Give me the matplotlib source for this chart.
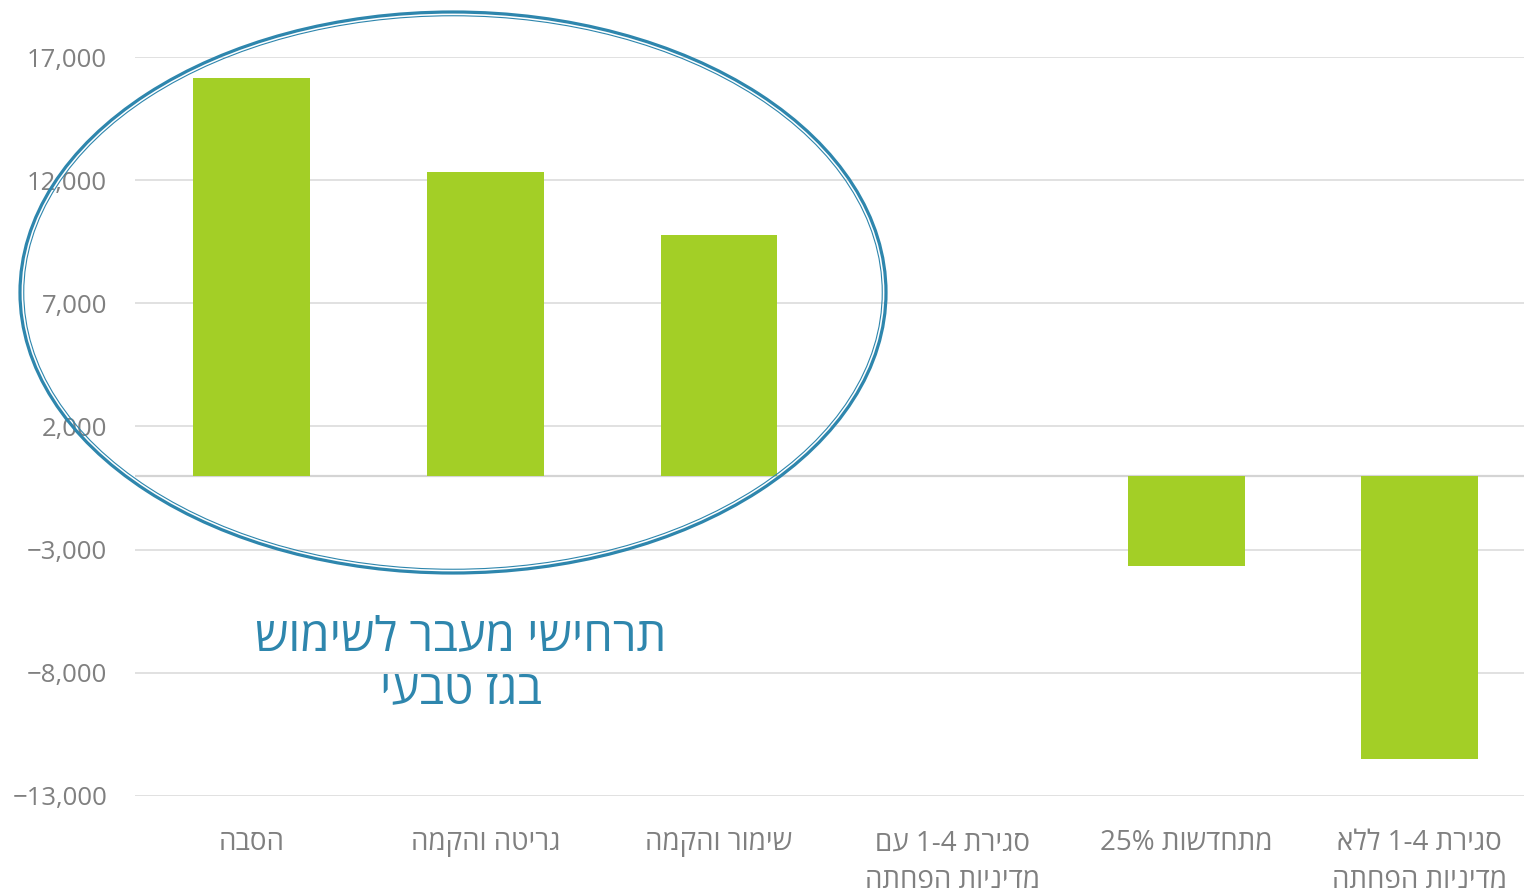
import matplotlib
matplotlib.use("Agg")
import matplotlib.pyplot as plt
from matplotlib.patches import Ellipse
from matplotlib.ticker import FuncFormatter

plt.rcParams["font.family"] = ["Open Sans", "DejaVu Sans"]

categories = ["הסבה", "גריטה והקמה", "שימור והקמה",
              "סגירת 1-4 עם\nמדיניות הפחתה", "מתחדשות 25%",
              "סגירת 1-4 ללא\nמדיניות הפחתה"]
values = [16150, 12320, 9770, 0, -3650, -11500]
yticks = [-13000, -8000, -3000, 2000, 7000, 12000, 17000]
note = "תרחישי מעבר לשימוש\nבגז טבעי"

green = "#a3cf26"
blue = "#2e86ad"
gray = "#808080"


def heb(s):
    # matplotlib has no bidi support: flip hebrew words into visual order
    out = []
    for line in s.split("\n"):
        words = line.split(" ")[::-1]
        words = [w[::-1] if any("\u0590" <= c <= "\u05ff" for c in w) else w for w in words]
        out.append(" ".join(words))
    return "\n".join(out)


fig = plt.figure(figsize=(15.24, 8.96), dpi=100)
ax = fig.add_axes([135 / 1524, 1 - 796 / 896, 1401.6 / 1524, (796 - 57) / 896])

x = list(range(len(categories)))
ax.bar(x, values, width=0.5, color=green, zorder=3)
ax.axhline(0, color="#d4d4d4", lw=1.6, zorder=2)

ax.set_xlim(-0.5, len(categories) - 0.5)
ax.set_ylim(-13000, 17000)
ax.set_yticks(yticks)
ax.yaxis.set_major_formatter(FuncFormatter(lambda v, p: f"{v:,.0f}".replace("-", "\u2212")))
ax.set_xticks(x)
ax.set_xticklabels([heb(c) for c in categories], linespacing=1.45)
ax.grid(axis="y", color="#dedede", lw=1.3, zorder=0)
for s in ax.spines.values():
    s.set_visible(False)
ax.tick_params(axis="y", length=0, pad=20, labelsize=18.5, labelcolor=gray)
ax.tick_params(axis="x", length=0, pad=24, labelsize=20, labelcolor=gray)
for t in ax.get_xticklabels():
    t.set_verticalalignment("top")

# double-line ellipse around the gas scenarios
tr = fig.dpi_scale_trans
cx, cy, w, h = 4.53, 8.96 - 2.925, 8.66, 5.61
fig.add_artist(Ellipse((cx, cy), w, h, transform=tr, fill=False, ec=blue, lw=2.3, zorder=5))
fig.add_artist(Ellipse((cx, cy), w - 0.075, h - 0.075, transform=tr, fill=False, ec=blue, lw=0.8, zorder=5))

fig.text(461 / 1524, 1 - 664 / 896, heb(note), ha="center", va="center",
         fontsize=34, color=blue, linespacing=1.15)

fig.savefig("out.png", dpi=100)
